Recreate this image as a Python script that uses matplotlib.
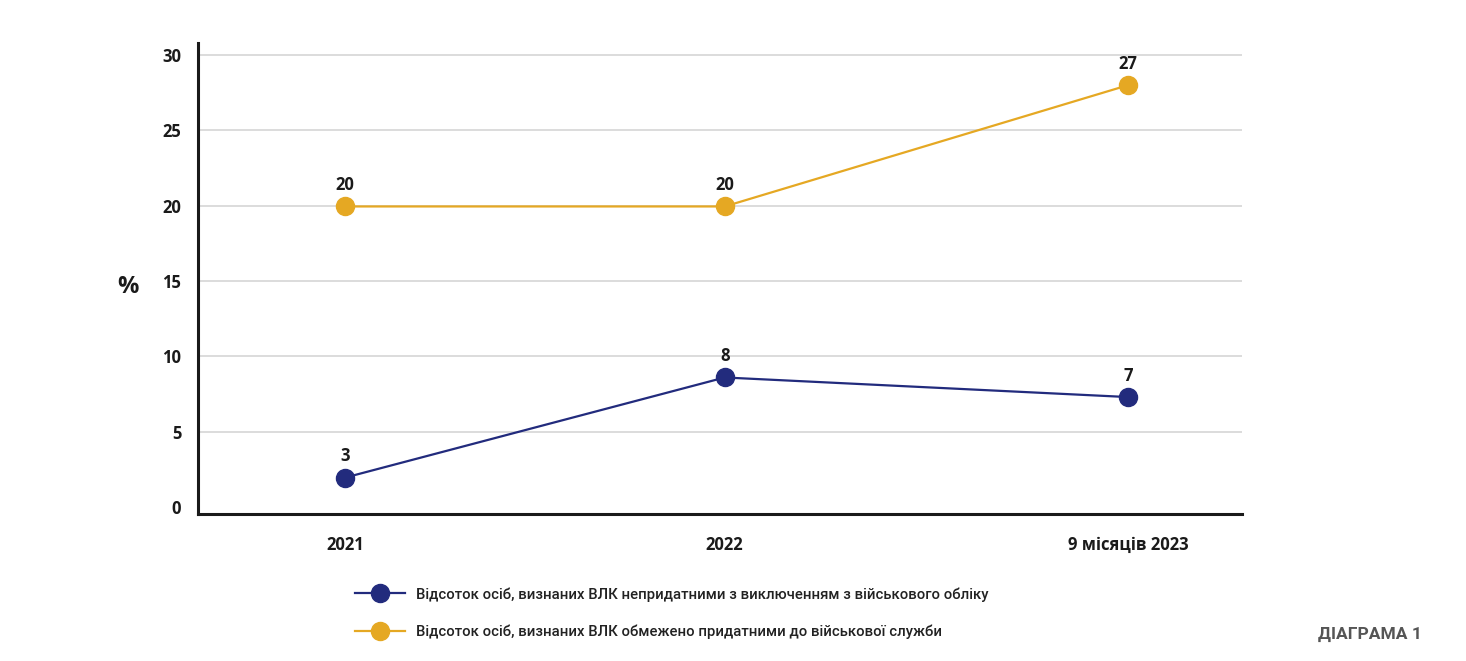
import matplotlib
matplotlib.use("Agg")
import matplotlib.pyplot as plt
from matplotlib.lines import Line2D

# categories and series
years = ["2021", "2022", "9 місяців 2023"]
unfit_pos = [1.95, 8.6, 7.3]        # where the points sit on the scale
unfit_labels = ["3", "8", "7"]      # printed values
limited_pos = [19.95, 19.95, 28.0]
limited_labels = ["20", "20", "27"]

legend_names = [
    "Відсоток осіб, визнаних ВЛК непридатними з виключенням з військового обліку",
    "Відсоток осіб, визнаних ВЛК обмежено придатними до військової служби",
]

BLUE = "#222b7d"
YELLOW = "#e5a823"
GRID = "#d9d9d9"

plt.rcParams["font.family"] = ["Open Sans", "DejaVu Sans"]

fig = plt.figure(figsize=(14.66, 6.61), dpi=100)
ax = fig.add_axes([0.135, 0.2224, 0.712, 0.7126])

x = [0, 0.97, 2]  # category slots (the middle one sits a bit left in the original)
ax.set_xlim(-0.375, 2.29)
ax.set_ylim(-0.46, 30.8)

for yv in range(5, 31, 5):
    ax.axhline(yv, color=GRID, lw=1.3, zorder=0)

ax.plot(x, unfit_pos, color=BLUE, lw=1.6, marker="o", ms=13, zorder=3)
ax.plot(x, limited_pos, color=YELLOW, lw=1.6, marker="o", ms=13, zorder=3)

for ys, labs in [(unfit_pos, unfit_labels), (limited_pos, limited_labels)]:
    for xi, yi, lab in zip(x, ys, labs):
        ax.annotate(lab, (xi, yi), xytext=(0, 9), textcoords="offset points",
                    ha="center", va="bottom", fontsize=12, fontweight="bold",
                    color="#1a1a1a")

ax.set_xticks(x)
ax.set_xticklabels(years, fontsize=12, fontweight="bold", color="#1a1a1a")
ax.set_yticks(range(0, 31, 5))
ax.set_yticklabels([str(v) for v in range(0, 31, 5)], fontsize=12,
                   fontweight="bold", color="#1a1a1a")
ax.tick_params(axis="both", length=0)
ax.tick_params(axis="x", pad=16)
ax.tick_params(axis="y", pad=12)

for s in ["top", "right"]:
    ax.spines[s].set_visible(False)
for s in ["left", "bottom"]:
    ax.spines[s].set_linewidth(2.2)
    ax.spines[s].set_color("#1a1a1a")

fig.text(0.087, 0.566, "%", fontsize=17, fontweight="bold", color="#1a1a1a",
         ha="center", va="center")

handles = [
    Line2D([], [], color=BLUE, lw=1.6, marker="o", ms=13),
    Line2D([], [], color=YELLOW, lw=1.6, marker="o", ms=13),
]
fig.legend(handles, legend_names, loc="upper left", bbox_to_anchor=(0.233, 0.132),
           frameon=False, handlelength=3.4, handletextpad=0.7, labelspacing=1.55,
           prop={"family": ["Roboto", "DejaVu Sans"], "size": 10.7, "weight": "medium"},
           labelcolor="#222222")

fig.text(0.97, 0.04, "ДІАГРАМА 1", ha="right", va="center", fontsize=12.5,
         fontweight="bold", color="#555555", family=["Roboto", "DejaVu Sans"])

fig.savefig("out.png", dpi=100, facecolor="white")
